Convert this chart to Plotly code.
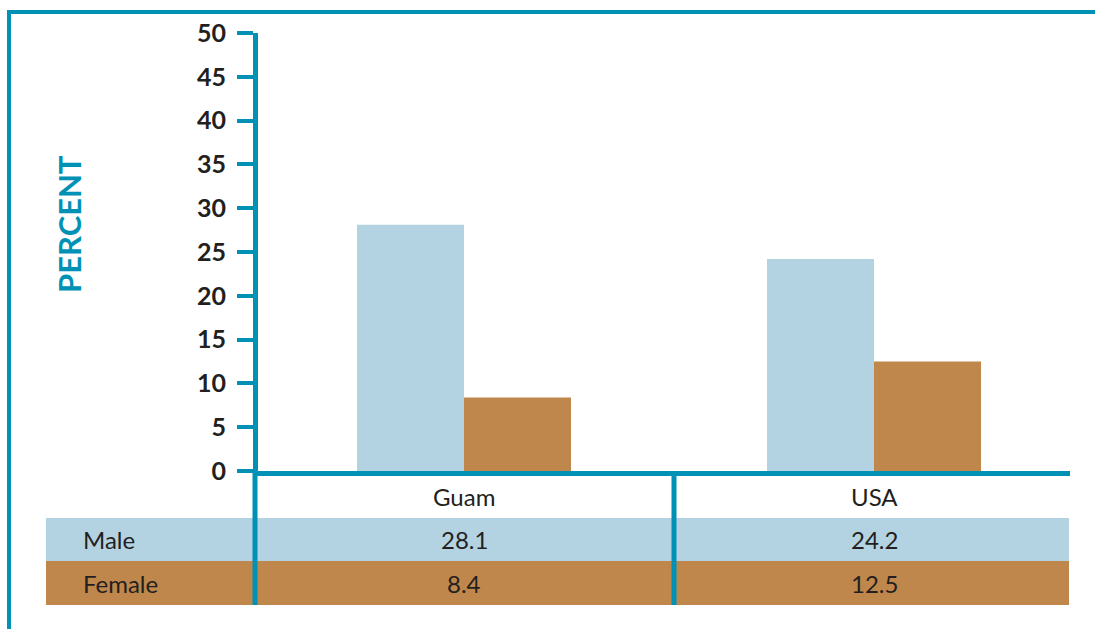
import plotly.graph_objects as go

# Data
regions = ["Guam", "USA"]
male = [28.1, 24.2]
female = [8.4, 12.5]
series_names = ["Male", "Female"]
y_ticks = list(range(0, 55, 5))

TEAL = "#0091b5"
LIGHT_BLUE = "#b3d3e3"
BROWN = "#bf874b"
TEXT = "#231f20"
FONT = "Lato"

W, H = 1095, 629
L, R, T, B = 258, 25, 33, 158
plot_w = W - L - R
plot_h = H - T - B


def px(x):
    """Pixel x -> paper x."""
    return (x - L) / plot_w


def py(y):
    """Pixel y -> paper y."""
    return (H - B - y) / plot_h


fig = go.Figure()
fig.add_trace(go.Bar(x=regions, y=male, name=series_names[0],
                     marker=dict(color=LIGHT_BLUE, line=dict(width=0))))
fig.add_trace(go.Bar(x=regions, y=female, name=series_names[1],
                     marker=dict(color=BROWN, line=dict(width=0))))

shapes = []
# table rows
shapes.append(dict(type="rect", xref="paper", yref="paper", x0=px(46), x1=px(1069),
                   y0=py(561), y1=py(518), fillcolor=LIGHT_BLUE, line=dict(width=0), layer="above"))
shapes.append(dict(type="rect", xref="paper", yref="paper", x0=px(46), x1=px(1069),
                   y0=py(605), y1=py(561), fillcolor=BROWN, line=dict(width=0), layer="above"))
# y axis extension through the table and column divider
shapes.append(dict(type="line", xref="paper", yref="paper", x0=px(255), x1=px(255),
                   y0=py(473), y1=py(605), line=dict(color=TEAL, width=5), layer="above"))
shapes.append(dict(type="line", xref="paper", yref="paper", x0=px(674), x1=px(674),
                   y0=py(473), y1=py(605), line=dict(color=TEAL, width=5), layer="above"))
# outer frame
shapes.append(dict(type="line", xref="paper", yref="paper", x0=px(7), x1=px(1095),
                   y0=py(12), y1=py(12), line=dict(color=TEAL, width=4), layer="above"))
shapes.append(dict(type="line", xref="paper", yref="paper", x0=px(9), x1=px(9),
                   y0=py(10), y1=py(629), line=dict(color=TEAL, width=4), layer="above"))

annotations = []
annotations.append(dict(text="<b>PERCENT</b>", xref="paper", yref="paper", x=px(69), y=py(224),
                        xanchor="center", yanchor="middle",
                        textangle=-90, showarrow=False, font=dict(family=FONT, size=31, color=TEAL)))
# column headers
for r in regions:
    annotations.append(dict(text=r, xref="x", yref="paper", x=r, y=py(496),
                            xanchor="center", yanchor="middle", showarrow=False,
                            font=dict(family=FONT, size=24, color=TEXT)))
# row labels and values
for name, vals, yc in [(series_names[0], male, 539), (series_names[1], female, 583)]:
    annotations.append(dict(text=name, xref="paper", yref="paper", x=px(81), y=py(yc),
                            xanchor="left", yanchor="middle", showarrow=False,
                            font=dict(family=FONT, size=24, color=TEXT)))
    for r, v in zip(regions, vals):
        annotations.append(dict(text=f"{v:.1f}", xref="x", yref="paper", x=r, y=py(yc),
                                xanchor="center", yanchor="middle", showarrow=False,
                                font=dict(family=FONT, size=24, color=TEXT)))

# category centres sit at 464 px and 874 px
x_lo = (L - 464) / 410
x_hi = (W - R - 464) / 410

fig.update_layout(
    width=W, height=H, autosize=False,
    margin=dict(l=L, r=R, t=T, b=B, pad=0),
    paper_bgcolor="white", plot_bgcolor="white",
    barmode="group", bargap=0.478, bargroupgap=0,
    showlegend=False,
    shapes=shapes, annotations=annotations,
    xaxis=dict(type="category", range=[x_lo, x_hi], showticklabels=False, ticks="",
               showline=True, linecolor=TEAL, linewidth=5, showgrid=False, zeroline=False,
               fixedrange=True),
    yaxis=dict(range=[0, 50], tickvals=y_ticks, ticks="outside", ticklen=16, tickwidth=4,
               tickcolor=TEAL, showline=True, linecolor=TEAL, linewidth=5, showgrid=False,
               zeroline=False, ticklabelstandoff=6,
               tickfont=dict(family=FONT, size=25, color=TEXT, weight="bold"),
               fixedrange=True),
)

fig.write_html("out.html", config={"displayModeBar": False})
